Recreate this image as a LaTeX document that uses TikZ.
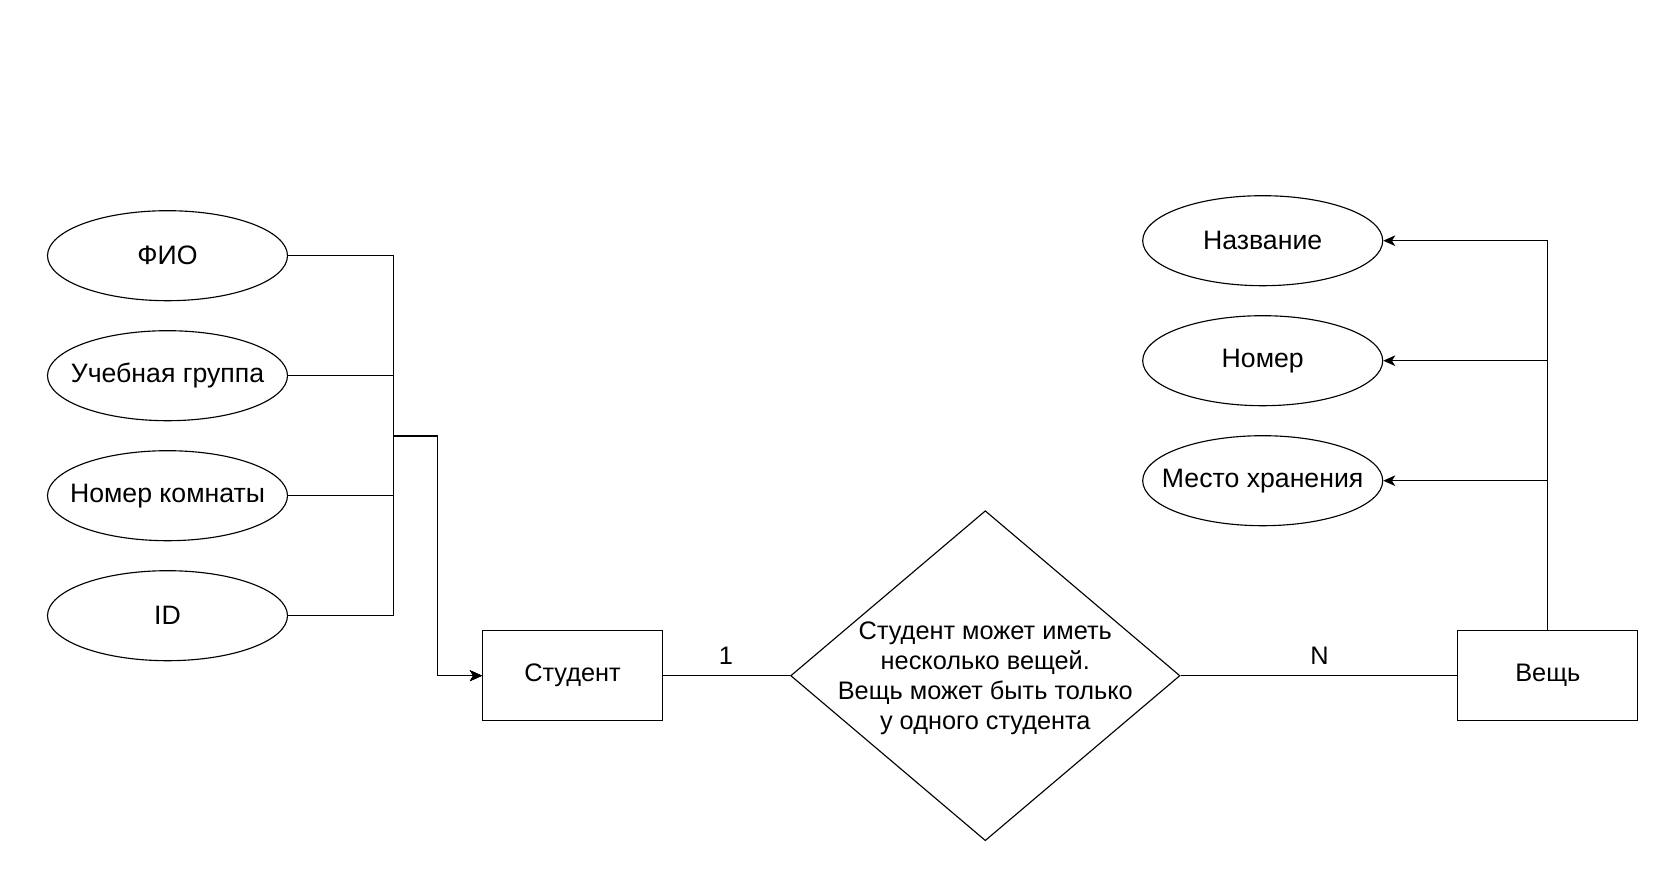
\documentclass[tikz,border=0pt]{standalone}
\usepackage{fontspec}
\setmainfont{Liberation Sans}
\usetikzlibrary{shapes.geometric,arrows.meta}
\begin{document}
\begin{tikzpicture}[x=0.75pt,y=-0.75pt,
  txt/.style={font=\fontsize{19}{22.5}\selectfont},
  attr/.style={draw, ellipse, line width=0.85pt, minimum width=180pt, minimum height=67.5pt, inner sep=0pt, font=\fontsize{20}{24}\selectfont},
  entity/.style={draw, rectangle, line width=0.85pt, minimum width=135pt, minimum height=67.5pt, inner sep=0pt, txt},
  rel/.style={draw, diamond, line width=0.85pt, minimum width=292pt, minimum height=247.5pt, inner sep=0pt},
  conn/.style={line width=0.85pt},
  arr/.style={conn, -{Stealth[length=9pt,width=8pt,inset=2.5pt]}},
]
\useasboundingbox (0,0) rectangle (1667,868);

% left attributes
\node[attr] (fio) at (167.5,255.7) {\makebox[0pt]{ФИО}};
\node[attr] (grp) at (167.5,375.7) {\makebox[0pt]{Учебная группа}};
\node[attr] (room) at (167.5,495.7) {\makebox[0pt]{Номер комнаты}};
\node[attr] (id) at (167.5,615.7) {\makebox[0pt]{ID}};

% entities
\node[entity] (stu) at (572.5,675.7) {Студент};
\node[entity] (thing) at (1547.8,675.7) {Вещь};

% relationship
\node[rel] (rel) at (985.3,675.7) {};
\node[txt, align=center, inner sep=0pt] (reltext) at (985.3,678) {Студент может иметь\\несколько вещей.\\Вещь может быть только\\у одного студента};

% right attributes
\node[attr] (name) at (1262.7,240.7) {\makebox[0pt]{Название}};
\node[attr] (num) at (1262.7,360.7) {\makebox[0pt]{Номер}};
\node[attr] (place) at (1262.7,480.7) {\makebox[0pt]{Место хранения}};

% junction coordinates
\coordinate (jl) at (393.3,436);
\coordinate (jb) at (437.7,436);

% left connectors
\draw[arr] (fio.east) -| (jl) -- (jb) |- (stu.west);
\draw[arr] (grp.east) -| (jl) -- (jb) |- (stu.west);
\draw[arr] (room.east) -| (jl) -- (jb) |- (stu.west);
\draw[arr] (id.east) -| (jl) -- (jb) |- (stu.west);

% relationship connectors
\draw[conn] (stu.east) -- (rel.west);
\draw[conn] (rel.east) -- (thing.west);
\node[txt] (one) at (726,656) {1};
\node[txt] (many) at (1319.5,656) {N};

% right connectors
\draw[arr] (thing.north) |- (name.east);
\draw[arr] (thing.north) |- (num.east);
\draw[arr] (thing.north) |- (place.east);
\end{tikzpicture}
\end{document}
